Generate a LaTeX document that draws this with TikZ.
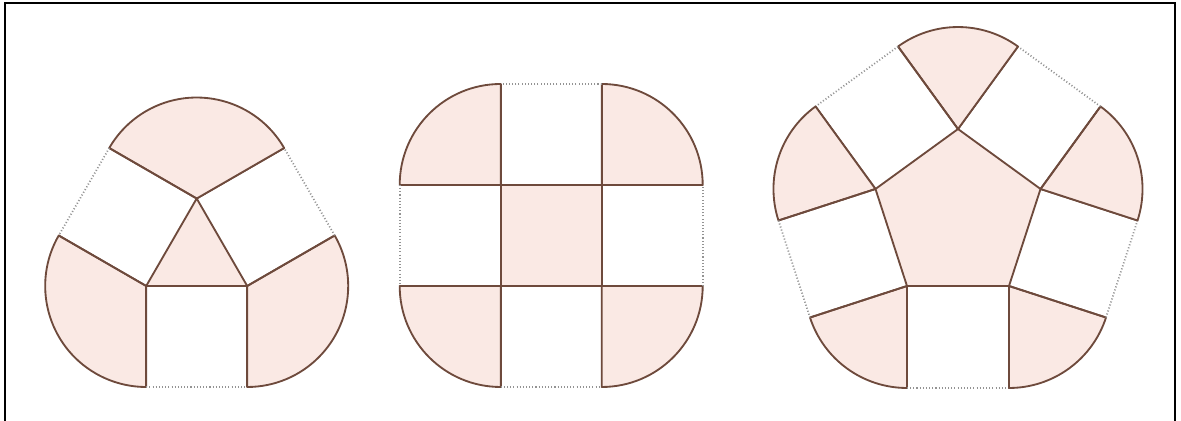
\documentclass[tikz,border=0pt]{standalone}
\usetikzlibrary{calc}
\definecolor{pinkfill}{HTML}{FAE9E4}
\definecolor{edgecol}{HTML}{6E4A3C}
\tikzset{
  sect/.style={fill=pinkfill, draw=edgecol, line width=1.05pt, line join=round},
  edge/.style={draw=edgecol, line width=1.05pt},
  outer/.style={draw=gray!85, line width=1pt, dash pattern=on 0.6pt off 1.2pt},
  frame/.style={draw=black, line width=1.6pt}
}
\newcommand\polyfig[3]{% #1 centre x, #2 number of sides, #3 side length
  \pgfmathsetmacro\Rr{#3/(2*sin(180/#2))}
  \pgfmathsetmacro\ap{#3/(2*tan(180/#2))}
  \pgfmathsetmacro\cy{135+\ap}
  \pgfmathsetmacro\bs{-90-180/#2}
  \pgfmathtruncatemacro\nm{#2-1}
  \coordinate (C) at (#1,\cy);
  \foreach \i in {0,...,\nm}{
    \pgfmathsetmacro\ta{\bs+360*\i/#2}
    \pgfmathsetmacro\tb{\bs+360*(\i+1)/#2}
    \pgfmathsetmacro\pa{\bs+360*(\i+0.5)/#2}
    \pgfmathsetmacro\pb{\bs+360*(\i-0.5)/#2}
    \coordinate (A) at ($(C)+(\ta:\Rr)$);
    \coordinate (B) at ($(C)+(\tb:\Rr)$);
    \coordinate (A2) at ($(A)+(\pa:#3)$);
    \coordinate (B2) at ($(B)+(\pa:#3)$);
    \path[sect] (A) -- ($(A)+(\pb:#3)$) arc[start angle=\pb, end angle=\pa, radius=#3] -- cycle;
    \draw[edge] (A) -- (A2);
    \draw[edge] (B) -- (B2);
    \draw[outer] (A2) -- (B2);
  }
  \path[sect] ($(C)+(\bs:\Rr)$) \foreach \k in {1,...,\nm}{ -- ($(C)+(\bs+360*\k/#2:\Rr)$) } -- cycle;
}
\begin{document}
\begin{tikzpicture}[x=0.02cm,y=0.02cm]
\useasboundingbox (0,0) rectangle (1181,421);
\draw[frame] (5,-2) -- (5,418) -- (1175,418) -- (1175,-2);
\polyfig{196.7}{3}{101}
\polyfig{551.2}{4}{101}
\polyfig{958}{5}{102}
\end{tikzpicture}
\end{document}
